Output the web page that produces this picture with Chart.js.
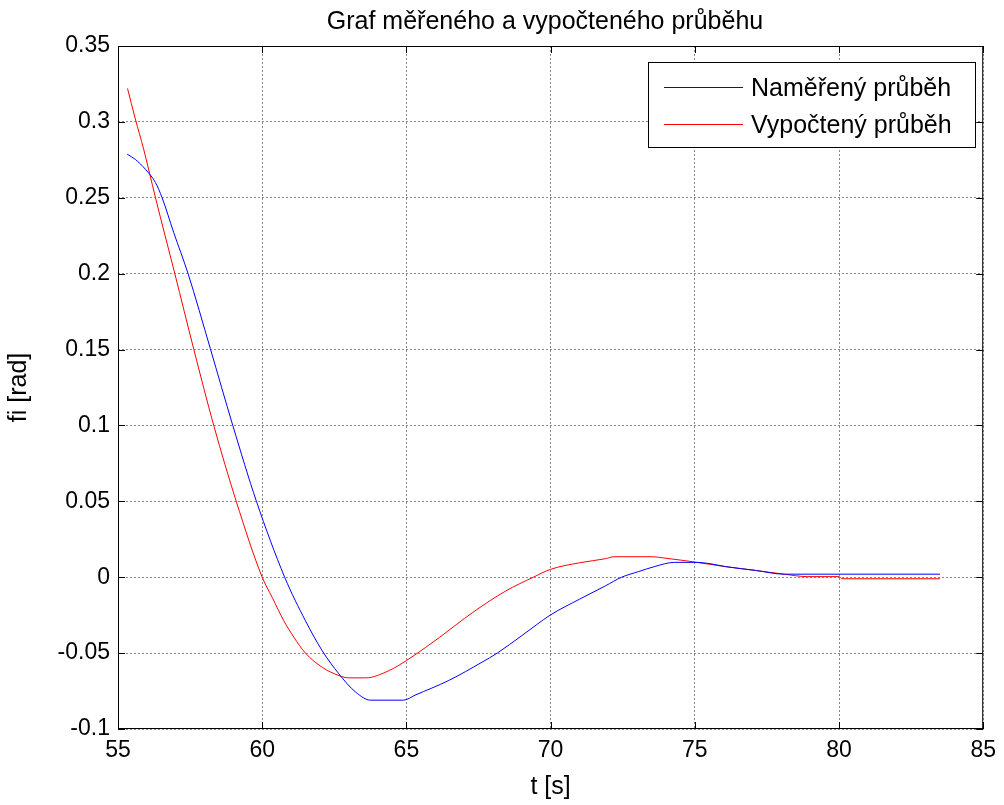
<!DOCTYPE html>
<html>
<head>
<meta charset="utf-8">
<script src="https://cdn.jsdelivr.net/npm/chart.js@4"></script>
<style>
  html, body { margin: 0; padding: 0; background: #fff; }
  #wrap { width: 1004px; height: 805px; }
</style>
</head>
<body>
<div id="wrap"><canvas id="plot" width="1004" height="805"></canvas></div>
<script>
// measured curve (Naměřený průběh)
const tMeasured = [55.32, 55.6, 55.95, 56.3, 56.53, 56.93, 57.43, 58.2, 58.98, 59.8, 60.78, 61.5, 62.08, 62.66, 63.24, 63.76, 64.9, 65.3, 66.47, 67.62, 68.15, 69.0, 70.0, 71.0, 71.9, 72.46, 73.05, 73.6, 74.3, 75.0, 75.5, 76.06, 77.1, 78.1, 83.5];
const yMeasured = [0.2787, 0.2753, 0.2688, 0.26, 0.25, 0.2272, 0.2, 0.1507, 0.1, 0.05, 0.0, -0.0287, -0.0484, -0.0637, -0.0757, -0.081, -0.081, -0.0777, -0.068, -0.056, -0.05, -0.0385, -0.0248, -0.0145, -0.0057, 0.0, 0.0037, 0.007, 0.0098, 0.0098, 0.009, 0.007, 0.0045, 0.002, 0.002];

// computed curve (Vypočtený průběh)
const tComputed = [55.33, 55.6, 55.89, 56.3, 56.97, 57.63, 58.32, 59.1, 60.0, 60.35, 60.75, 61.1, 61.5, 62.08, 62.66, 63.0, 63.59, 64.4, 65.0, 65.67, 66.15, 67.3, 68.45, 69.4, 70.0, 71.0, 71.9, 72.2, 73.5, 74.0, 75.0, 76.06, 77.1, 78.1, 78.9, 80.0, 80.1, 83.5];
const yComputed = [0.322, 0.302, 0.282, 0.25, 0.2, 0.15, 0.1, 0.05, 0.0, -0.0134, -0.0287, -0.0396, -0.05, -0.0593, -0.0648, -0.0663, -0.0663, -0.0615, -0.0549, -0.0462, -0.0396, -0.0232, -0.009, 0.0, 0.0052, 0.0095, 0.0122, 0.0135, 0.0135, 0.0125, 0.010, 0.007, 0.0045, 0.002, 0.0004, 0.0004, -0.001, -0.001];

const xTicks = [55, 60, 65, 70, 75, 80, 85];
const yTicks = [-0.1, -0.05, 0, 0.05, 0.1, 0.15, 0.2, 0.25, 0.3, 0.35];

const FONT = "'Liberation Sans', Arial, sans-serif";

function toPoints(ts, ys) {
    return ts.map((t, i) => ({ x: t, y: ys[i] }));
}

// box round the axes, inner tick marks, title and legend (matlab look)
const matlabFrame = {
    id: 'matlabFrame',
    afterDraw(chart) {
        const ctx = chart.ctx;
        const a = chart.chartArea;
        const xs = chart.scales.x, ys = chart.scales.y;
        ctx.save();
        ctx.strokeStyle = '#000';
        ctx.lineWidth = 1;
        ctx.strokeRect(a.left + 0.5, a.top + 0.5, a.right - a.left - 1, a.bottom - a.top - 1);
        ctx.beginPath();
        xTicks.forEach(v => {
            const px = Math.round(xs.getPixelForValue(v)) + 0.5;
            ctx.moveTo(px, a.bottom); ctx.lineTo(px, a.bottom - 7);
            ctx.moveTo(px, a.top); ctx.lineTo(px, a.top + 7);
        });
        yTicks.forEach(v => {
            const py = Math.round(ys.getPixelForValue(v)) + 0.5;
            ctx.moveTo(a.left, py); ctx.lineTo(a.left + 7, py);
            ctx.moveTo(a.right, py); ctx.lineTo(a.right - 7, py);
        });
        ctx.stroke();

        // title
        ctx.fillStyle = '#000';
        ctx.font = '25px ' + FONT;
        ctx.textAlign = 'center';
        ctx.textBaseline = 'alphabetic';
        ctx.fillText('Graf měřeného a vypočteného průběhu', 545, 29);

        // legend box
        const lx = 648, ly = 62, lw = 327, lh = 85;
        ctx.fillStyle = '#fff';
        ctx.fillRect(lx, ly, lw, lh);
        ctx.strokeRect(lx + 0.5, ly + 0.5, lw, lh);
        ctx.font = '25px ' + FONT;
        ctx.textAlign = 'left';
        chart.data.datasets.forEach((ds, i) => {
            const y = ly + 25 + i * 37;
            ctx.strokeStyle = ds.borderColor;
            ctx.beginPath();
            ctx.moveTo(664, y + 0.5); ctx.lineTo(743, y + 0.5);
            ctx.stroke();
            ctx.fillStyle = '#000';
            ctx.fillText(ds.label, 751, y + 9);
        });
        ctx.restore();
    }
};

new Chart(document.getElementById('plot').getContext('2d'), {
    type: 'line',
    data: {
        datasets: [
            {
                label: 'Naměřený průběh',
                data: toPoints(tMeasured, yMeasured),
                borderColor: '#0000ff',
                borderWidth: 1,
                pointRadius: 0,
                cubicInterpolationMode: 'monotone'
            },
            {
                label: 'Vypočtený průběh',
                data: toPoints(tComputed, yComputed),
                borderColor: '#ff0000',
                borderWidth: 1,
                pointRadius: 0,
                cubicInterpolationMode: 'monotone'
            }
        ]
    },
    options: {
        responsive: false,
        animation: false,
        layout: { padding: { top: 46, right: 19, left: 0, bottom: 3 } },
        plugins: {
            legend: { display: false },
            title: { display: false },
            tooltip: { enabled: false }
        },
        scales: {
            x: {
                type: 'linear',
                min: 55,
                max: 85,
                afterBuildTicks: s => { s.ticks = xTicks.map(v => ({ value: v })); },
                afterFit: s => { s.height = 73; },
                grid: { color: '#8a8a8a', drawTicks: false },
                border: { display: false, dash: [2, 2] },
                ticks: { color: '#000', font: { family: FONT, size: 23 }, padding: 8, maxRotation: 0,
                         callback: v => String(+v.toFixed(2)) },
                title: { display: true, text: 't [s]', color: '#000', font: { family: FONT, size: 25 }, padding: { top: 0, bottom: 0 } }
            },
            y: {
                min: -0.1,
                max: 0.35,
                afterBuildTicks: s => { s.ticks = yTicks.map(v => ({ value: v })); },
                afterFit: s => { s.width = 118; },
                grid: { color: '#8a8a8a', drawTicks: false },
                border: { display: false, dash: [2, 2] },
                ticks: { color: '#000', font: { family: FONT, size: 23 }, padding: 8,
                         callback: v => String(+v.toFixed(2)) },
                title: { display: true, text: 'fi [rad]', color: '#000', font: { family: FONT, size: 25 }, padding: { top: 4, bottom: 0 } }
            }
        }
    },
    plugins: [matlabFrame]
});
</script>
</body>
</html>
